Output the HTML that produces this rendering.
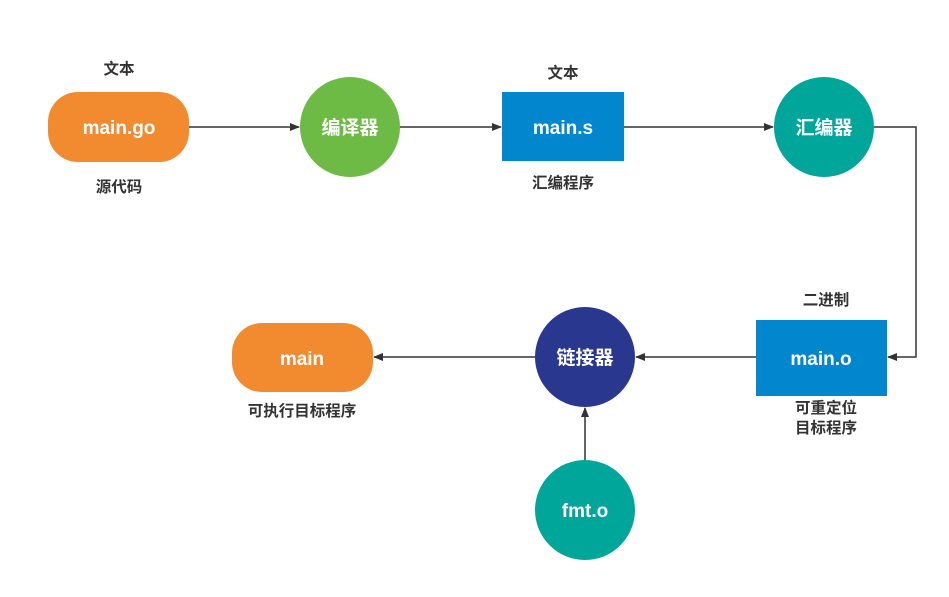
<!DOCTYPE html>
<html><head><meta charset="utf-8"><style>
html,body{margin:0;padding:0;background:#fff;}
svg text{font-family:"Liberation Sans","Noto Sans CJK SC",sans-serif;font-weight:bold;}
</style></head><body>
<svg width="949" height="592" viewBox="0 0 949 592" xmlns="http://www.w3.org/2000/svg">
<defs><marker id="a" markerWidth="10" markerHeight="10" refX="9" refY="5" orient="auto" markerUnits="userSpaceOnUse"><path d="M0,1 L10,5 L0,9 Z" fill="#333"/></marker></defs>
<g stroke="#333" stroke-width="1.5" fill="none">
<line x1="189" y1="127" x2="299" y2="127" marker-end="url(#a)"/>
<line x1="400" y1="127" x2="501" y2="127" marker-end="url(#a)"/>
<line x1="624" y1="127" x2="773" y2="127" marker-end="url(#a)"/>
<polyline points="874,127 916,127 916,357 888,357" marker-end="url(#a)"/>
<line x1="756" y1="357" x2="636" y2="357" marker-end="url(#a)"/>
<line x1="535" y1="357" x2="374" y2="357" marker-end="url(#a)"/>
<line x1="585" y1="460" x2="585" y2="408" marker-end="url(#a)"/>
</g>
<rect x="48" y="92" width="141" height="70" rx="30" fill="#F28A30"/>
<circle cx="350" cy="127" r="50" fill="#6DBB45"/>
<rect x="502" y="92" width="122" height="69" fill="#0287CF"/>
<circle cx="824" cy="127" r="50" fill="#00A699"/>
<rect x="756" y="320" width="131" height="76" fill="#0287CF"/>
<circle cx="585" cy="357" r="50" fill="#29388E"/>
<rect x="232" y="323" width="141" height="69" rx="30" fill="#F28A30"/>
<circle cx="585" cy="510" r="50" fill="#00A699"/>
<g fill="#fff" font-size="19" text-anchor="middle">
<text x="119" y="134">main.go</text>
<text x="350" y="134">编译器</text>
<text x="563" y="134">main.s</text>
<text x="824" y="134">汇编器</text>
<text x="821" y="365">main.o</text>
<text x="585" y="364">链接器</text>
<text x="302" y="365">main</text>
<text x="585" y="517">fmt.o</text>
</g>
<g fill="#333" font-size="15.5" text-anchor="middle">
<text x="119" y="74">文本</text>
<text x="119" y="192">源代码</text>
<text x="563" y="78">文本</text>
<text x="563" y="188">汇编程序</text>
<text x="826" y="305">二进制</text>
<text x="826" y="413">可重定位</text>
<text x="826" y="433">目标程序</text>
<text x="302" y="416">可执行目标程序</text>
</g>
</svg>
</body></html>
